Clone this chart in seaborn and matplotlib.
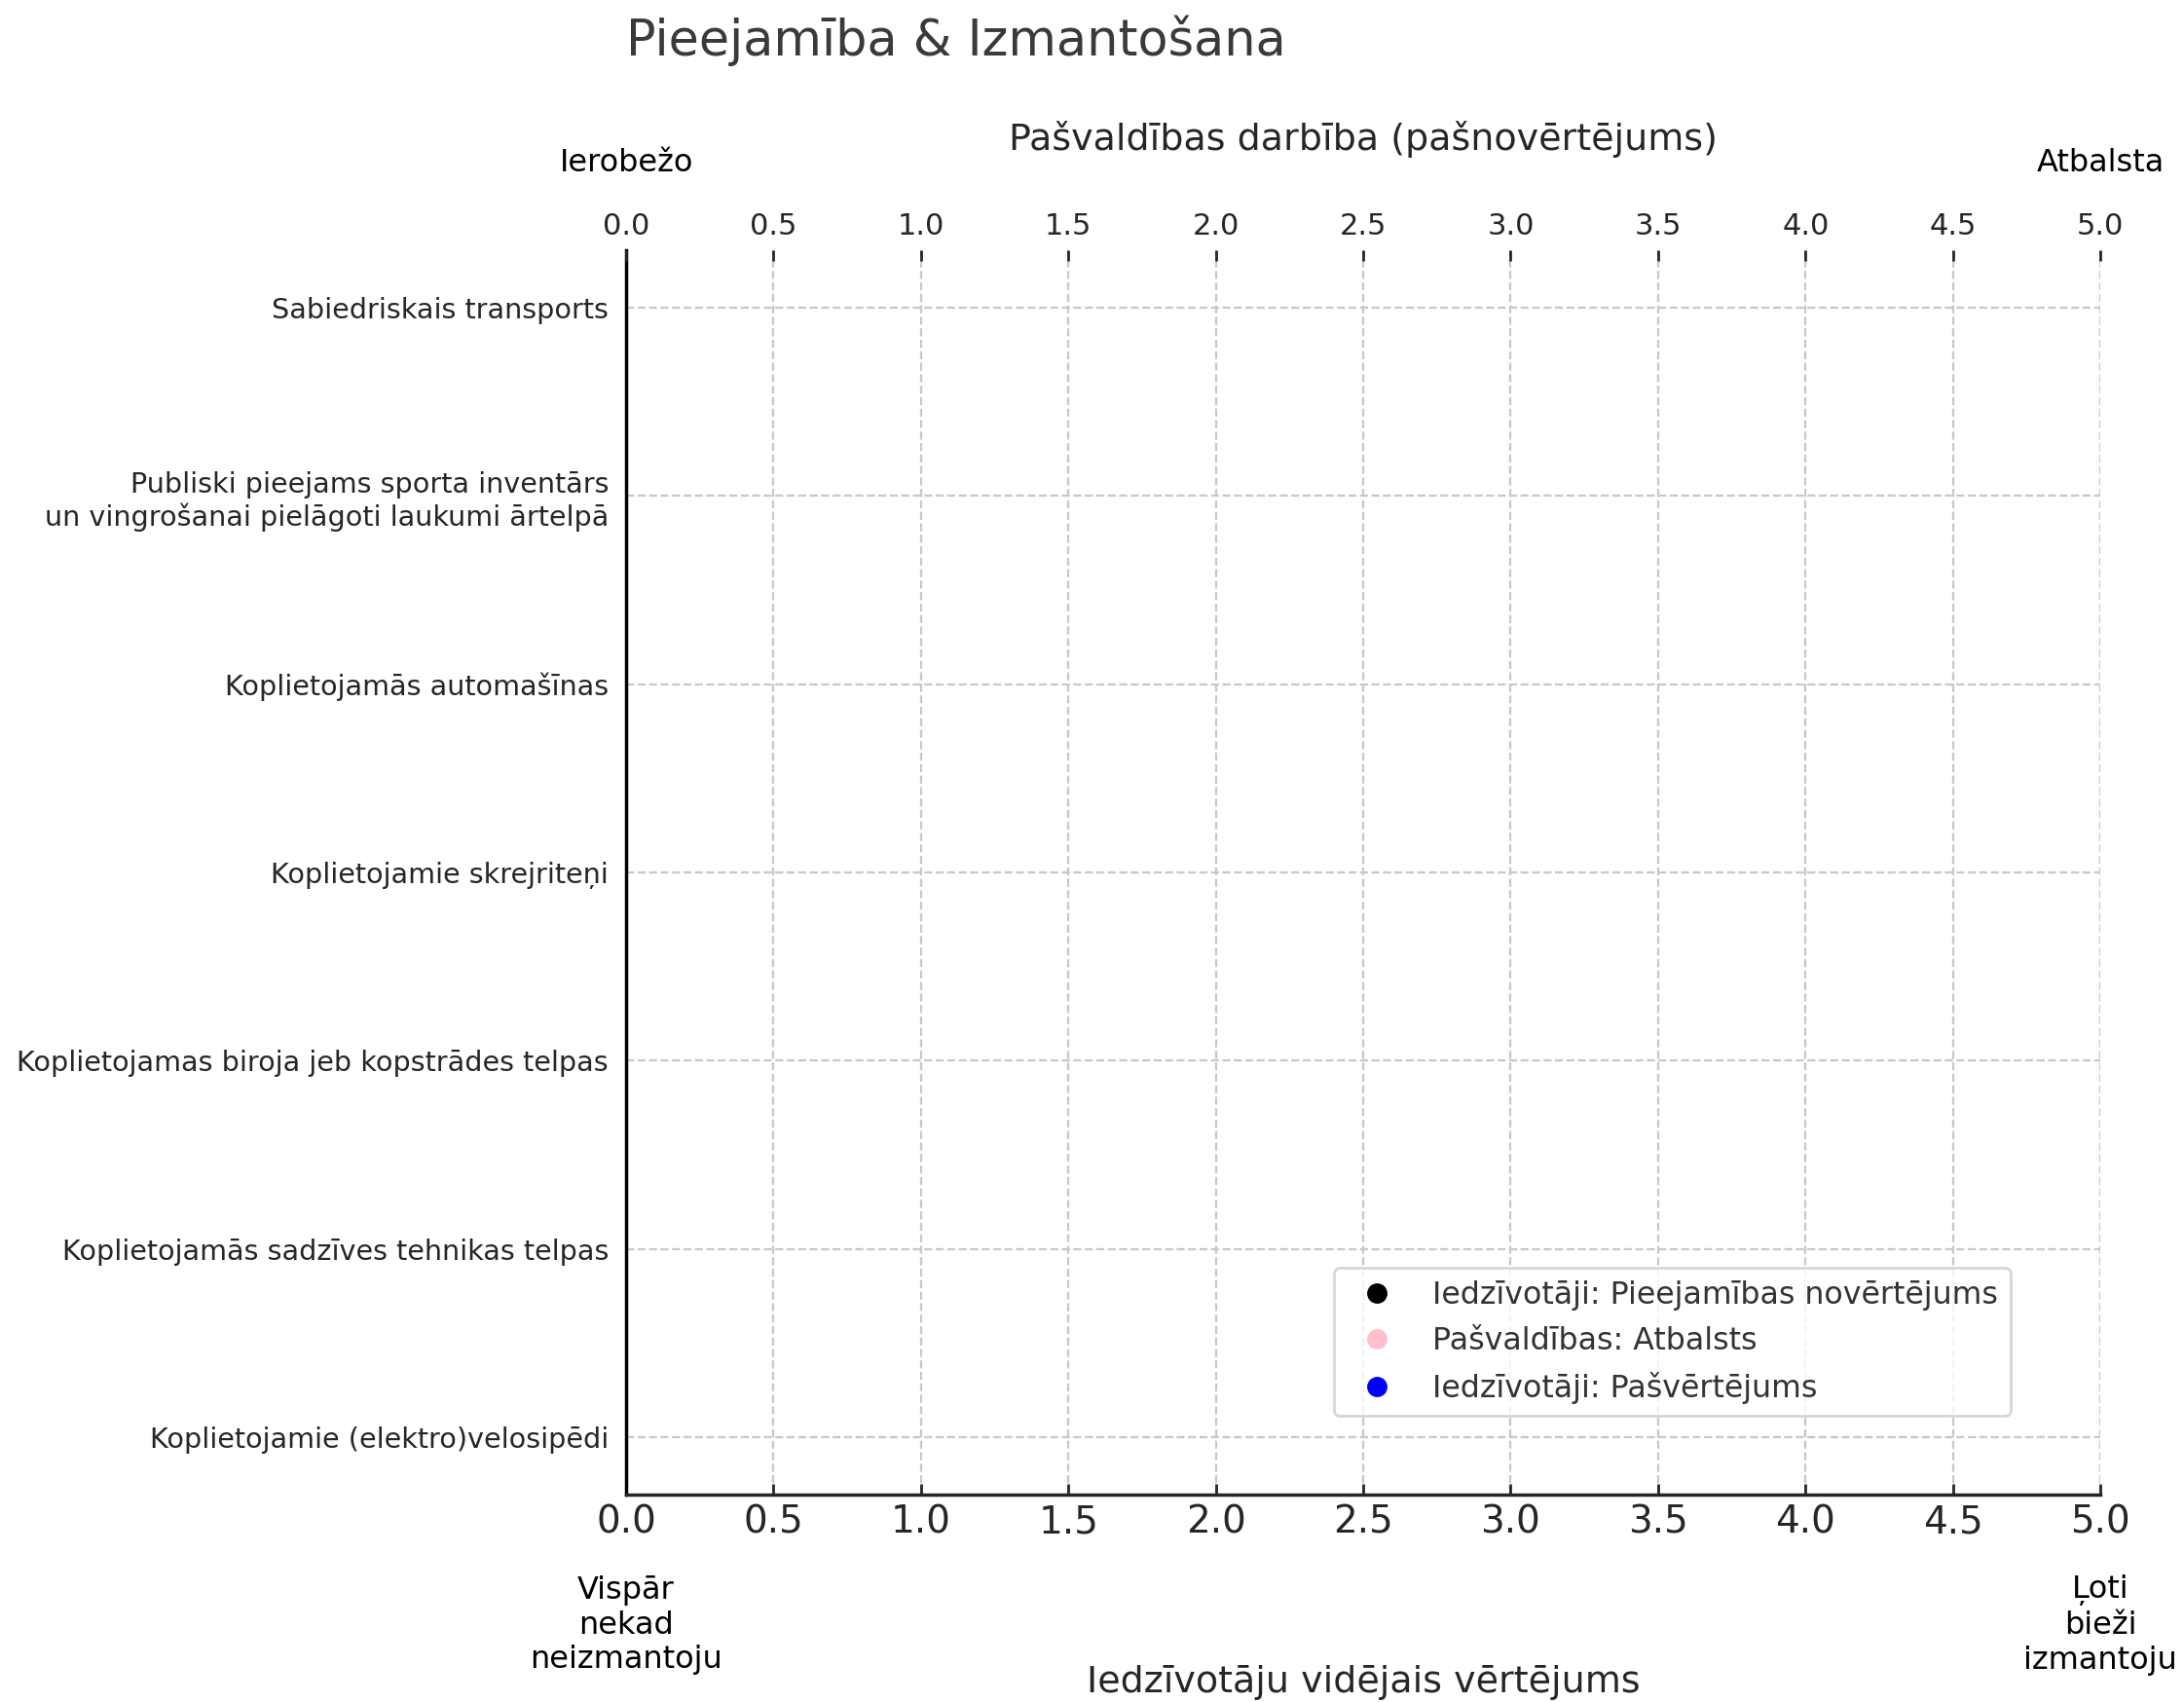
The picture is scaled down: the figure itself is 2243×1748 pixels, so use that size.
import numpy as np
import pandas as pd
import matplotlib
matplotlib.use("Agg")
import matplotlib.pyplot as plt
from matplotlib.lines import Line2D
import seaborn as sns

# categories, top to bottom
categories = [
    "Sabiedriskais transports",
    "Publiski pieejams sporta inventārs\nun vingrošanai pielāgoti laukumi ārtelpā",
    "Koplietojamās automašīnas",
    "Koplietojamie skrejriteņi",
    "Koplietojamas biroja jeb kopstrādes telpas",
    "Koplietojamās sadzīves tehnikas telpas",
    "Koplietojamie (elektro)velosipēdi",
]

# no points are visible in the reference, so every value is missing
resid_access = [np.nan] * 7   # Iedzīvotāji: Pieejamības novērtējums
munic_support = [np.nan] * 7  # Pašvaldības: Atbalsts
resid_self = [np.nan] * 7     # Iedzīvotāji: Pašvērtējums

series_names = ["Iedzīvotāji: Pieejamības novērtējums",
                "Pašvaldības: Atbalsts",
                "Iedzīvotāji: Pašvērtējums"]
series_colors = ["black", "pink", "blue"]
x_ticks = [0.0, 0.5, 1.0, 1.5, 2.0, 2.5, 3.0, 3.5, 4.0, 4.5, 5.0]

df = pd.DataFrame({
    "kategorija": categories * 3,
    "vertejums": resid_access + munic_support + resid_self,
    "serija": [series_names[0]] * 7 + [series_names[1]] * 7 + [series_names[2]] * 7,
})

sns.set_style("white")
plt.rcParams["font.family"] = ["DejaVu Sans"]
plt.rcParams["axes.linewidth"] = 1.25

fig, ax = plt.subplots(figsize=(11.215, 8.74), dpi=200)
fig.subplots_adjust(left=0.2867, right=0.9617, top=0.853, bottom=0.1219)

sns.scatterplot(data=df, x="vertejums", y="kategorija", hue="serija",
                palette=dict(zip(series_names, series_colors)), s=60,
                legend=False, ax=ax)

n = len(categories)
ax.set_yticks(range(n))
ax.set_yticklabels(categories, fontsize=10.3, color="#262626")
ax.set_ylim(n - 1 + 0.305, -0.305)
ax.set_xlim(0, 5)
ax.set_xticks(x_ticks)
ax.set_xticklabels([f"{v:.1f}" for v in x_ticks], fontsize=14, color="#262626")
ax.tick_params(axis="x", direction="in", length=4, width=1, color="#262626", pad=3.5)
ax.tick_params(axis="y", direction="in", length=3.5, width=1, color="#262626", pad=6.5)
ax.set_ylabel("")
ax.set_xlabel("Iedzīvotāju vidējais vērtējums", fontsize=13.7, color="#262626", labelpad=46)
ax.grid(True, linestyle="--", color="#c8c8c8", linewidth=0.8)
ax.set_axisbelow(True)
for s in ["top", "right"]:
    ax.spines[s].set_visible(False)
ax.spines["left"].set_color("black")
ax.spines["bottom"].set_color("#262626")

# top axis: municipality self-assessment scale
ax2 = ax.twiny()
ax2.set_xlim(0, 5)
ax2.set_xticks(x_ticks)
ax2.set_xticklabels([f"{v:.1f}" for v in x_ticks], fontsize=11, color="#262626")
ax2.tick_params(axis="x", direction="in", length=4, width=1, color="#262626", pad=3.5)
ax2.set_xlabel("Pašvaldības darbība (pašnovērtējums)", fontsize=13.7, color="#262626", labelpad=23)
for s in ax2.spines.values():
    s.set_visible(False)

# scale end annotations
trans = ax.get_xaxis_transform()
ax.text(0, 1.070, "Ierobežo", transform=trans, ha="center", va="center", fontsize=11.5, color="black")
ax.text(5, 1.070, "Atbalsta", transform=trans, ha="center", va="center", fontsize=11.5, color="black")
ax.text(0, -0.105, "Vispār\nnekad\nneizmantoju", transform=trans, ha="center", va="center",
        fontsize=11.5, color="black")
ax.text(5, -0.105, "Ļoti\nbieži\nizmantoju", transform=trans, ha="center", va="center",
        fontsize=11.5, color="black")

fig.text(0.2867, 0.9674, "Pieejamība & Izmantošana", fontsize=18.3, color="#3a3a3a",
         ha="left", va="baseline")

handles = [Line2D([], [], marker="o", linestyle="", color=c, markersize=6.5) for c in series_colors]
leg = ax.legend(handles, series_names, loc="lower right", bbox_to_anchor=(0.939, 0.063),
                borderaxespad=0, fontsize=11.4, frameon=True)
leg.get_frame().set_edgecolor("#cccccc")
for t in leg.get_texts():
    t.set_color("#333333")

plt.savefig("out.png", dpi=200)
